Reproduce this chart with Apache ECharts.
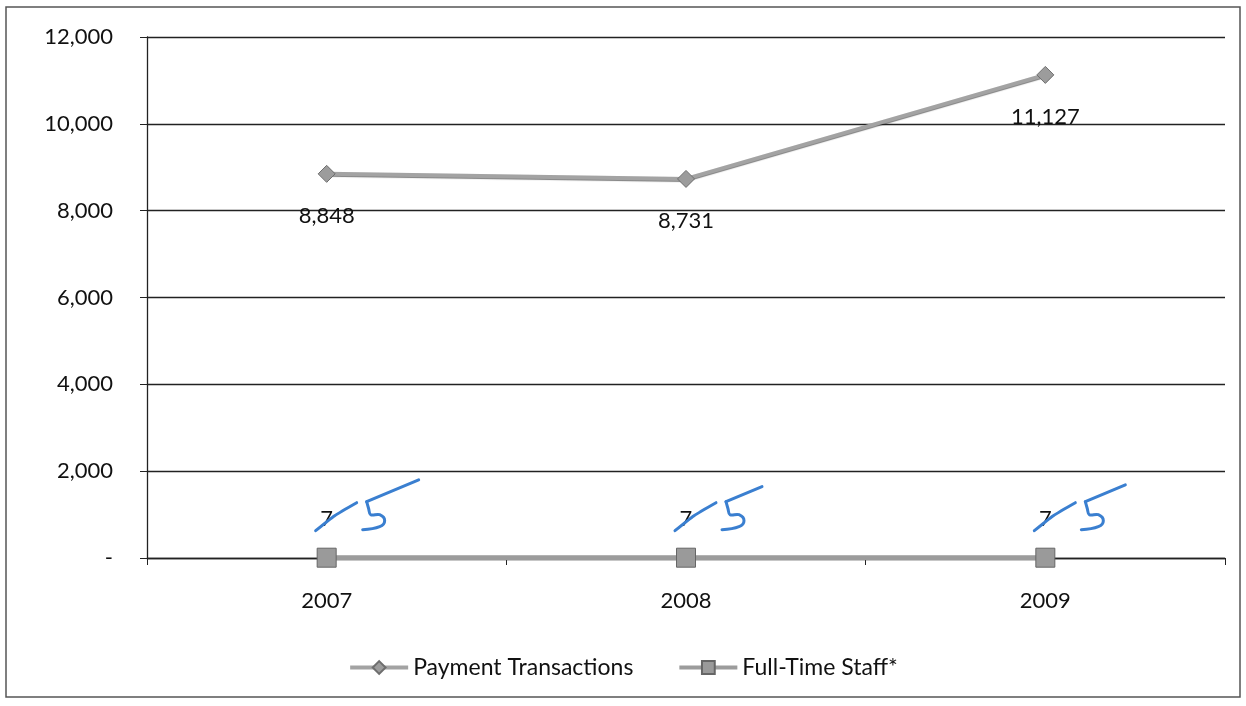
<!DOCTYPE html>
<html>
<head>
<meta charset="utf-8">
<script src="https://cdn.jsdelivr.net/npm/echarts@6/dist/echarts.min.js"></script>
<style>
  html, body { margin: 0; padding: 0; background: #fff; }
  #chart { width: 1246px; height: 706px; }
</style>
</head>
<body>
<div id="chart"></div>
<script>
// Chart data
const years = ['2007', '2008', '2009'];
const paymentTransactions = [8848, 8731, 11127];
const fullTimeStaff = [7, 7, 7];
const seriesNames = ['Payment Transactions', 'Full-Time Staff*'];

const FONT = 'Lato, "Open Sans", sans-serif';
const fmt = v => v === 0 ? '-' : v.toLocaleString('en-US');

const chart = echarts.init(document.getElementById('chart'), null, { renderer: 'canvas' });

chart.setOption({
  animation: false,
  backgroundColor: '#fff',
  textStyle: { fontFamily: FONT },
  grid: { left: 147, right: 21, top: 37, bottom: 148 },
  legend: {
    bottom: 22,
    left: 'center',
    itemWidth: 58,
    itemHeight: 16,
    itemGap: 44,
    textStyle: { fontSize: 23, color: '#111', fontFamily: FONT },
    lineStyle: { width: 4 },
    data: seriesNames
  },
  xAxis: {
    type: 'category',
    data: years,
    boundaryGap: true,
    axisLine: { lineStyle: { color: '#222', width: 1.3 } },
    axisTick: { show: true, length: 7, inside: false, lineStyle: { color: '#222' } },
    axisLabel: { fontSize: 22, color: '#111', margin: 32, fontFamily: FONT },
    splitLine: { show: false }
  },
  yAxis: {
    type: 'value',
    min: 0,
    max: 12000,
    interval: 2000,
    axisLine: { show: true, lineStyle: { color: '#222', width: 1.3 } },
    axisTick: { show: true, length: 7, lineStyle: { color: '#222' } },
    axisLabel: { fontSize: 22, color: '#111', margin: 34, formatter: fmt, fontFamily: FONT },
    splitLine: { show: true, lineStyle: { color: '#222', width: 1.3 } }
  },
  series: [
    {
      name: seriesNames[0],
      type: 'line',
      data: paymentTransactions,
      symbol: 'diamond',
      symbolSize: 17,
      itemStyle: { color: '#9c9c9c', borderColor: '#6e6e6e', borderWidth: 1 },
      lineStyle: { color: '#a3a3a3', width: 4, shadowColor: 'rgba(40,40,40,0.6)', shadowBlur: 1, shadowOffsetY: 1 },
      label: {
        show: true,
        position: 'bottom',
        distance: 22,
        fontSize: 22,
        color: '#111',
        fontFamily: FONT,
        formatter: p => fmt(p.value)
      },
      z: 3
    },
    {
      name: seriesNames[1],
      type: 'line',
      data: fullTimeStaff,
      symbol: 'rect',
      symbolSize: 19,
      itemStyle: { color: '#9a9a9a', borderColor: '#666', borderWidth: 1 },
      lineStyle: { color: '#9c9c9c', width: 5, shadowColor: 'rgba(40,40,40,0.5)', shadowBlur: 1, shadowOffsetY: 1 },
      label: {
        show: true,
        position: 'top',
        distance: 18,
        fontSize: 22,
        color: '#111',
        fontFamily: FONT,
        formatter: p => String(p.value)
      },
      z: 4
    }
  ]
});

// Handwritten corrections over the staff labels: a blue stroke crossing the 7 and a "5" beside it
const INK = '#3a7fd0';
const graphics = [
  { type: 'rect', shape: { x: 6, y: 7, width: 1234, height: 690 }, style: { fill: 'none', stroke: '#555', lineWidth: 1.5 }, silent: true, z: 0 }
];
// length of the top bar of each "5"
const tails = [52, 36, 40];
fullTimeStaff.forEach((v, i) => {
  const [px, py] = chart.convertToPixel({ seriesIndex: 1 }, [i, v]);
  // strike through the printed figure
  graphics.push({
    type: 'polyline',
    shape: { points: [[px - 11, py - 27], [px + 8, py - 42], [px + 30, py - 55]], smooth: 0.2 },
    style: { stroke: INK, lineWidth: 3, lineCap: 'round', fill: 'none' },
    z: 20
  });
  // top bar of the "5"
  graphics.push({
    type: 'line',
    shape: { x1: px + 40, y1: py - 56, x2: px + 40 + tails[i], y2: py - 56 - tails[i] * 0.42 },
    style: { stroke: INK, lineWidth: 3, lineCap: 'round' },
    z: 20
  });
  // stem and bowl of the "5"
  graphics.push({
    type: 'polyline',
    shape: {
      points: [
        [px + 40, py - 56],
        [px + 42, py - 49],
        [px + 44, py - 43],
        [px + 53, py - 43],
        [px + 58, py - 37],
        [px + 53, py - 31],
        [px + 36, py - 28]
      ],
      smooth: 0.4
    },
    style: { stroke: INK, lineWidth: 3, lineCap: 'round', lineJoin: 'round', fill: 'none' },
    z: 20
  });
});
chart.setOption({ graphic: graphics });
</script>
</body>
</html>
